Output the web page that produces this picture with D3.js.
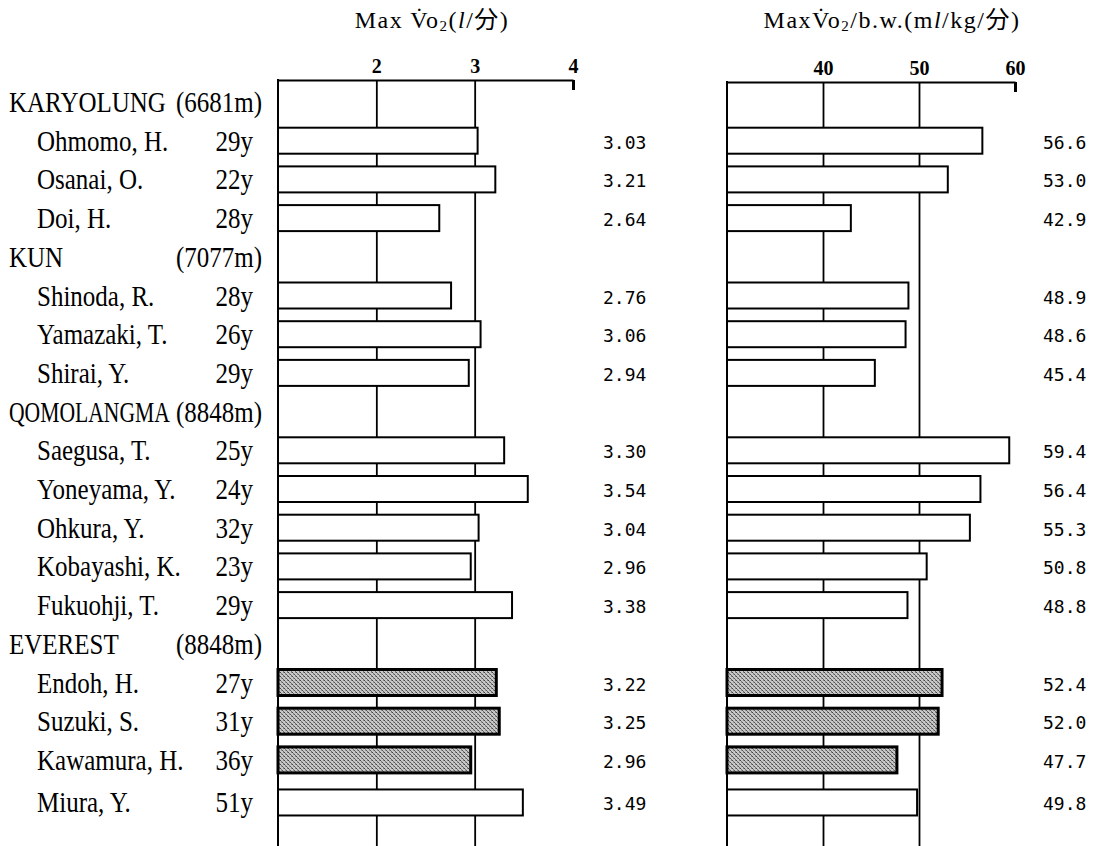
<!DOCTYPE html>
<html>
<head>
<meta charset="utf-8">
<script src="https://cdn.jsdelivr.net/npm/d3@7"></script>
<style>
  body { margin: 0; background: #fff; }
  text { fill: #000; }
  .lab { font-family: "Liberation Serif", "Times New Roman", serif; font-size: 25px; }
  .val { font-family: "DejaVu Sans Mono", "Liberation Mono", monospace; font-size: 18px; }
  .tick text { font-family: "Liberation Serif", serif; font-size: 20px; font-weight: bold; }
  .ttl { font-family: "Liberation Serif", "Noto Sans CJK JP", serif; font-size: 24px; letter-spacing: 1.5px; }
</style>
</head>
<body>
<script>
var expeditions = ["KARYOLUNG", "KUN", "QOMOLANGMA", "EVEREST"];
var altitudes = ["(6681m)", "(7077m)", "(8848m)", "(8848m)"];

var names = ["Ohmomo, H.", "Osanai, O.", "Doi, H.",
             "Shinoda, R.", "Yamazaki, T.", "Shirai, Y.",
             "Saegusa, T.", "Yoneyama, Y.", "Ohkura, Y.", "Kobayashi, K.", "Fukuohji, T.",
             "Endoh, H.", "Suzuki, S.", "Kawamura, H.",
             "Miura, Y."];
var team = ["KARYOLUNG", "KARYOLUNG", "KARYOLUNG",
            "KUN", "KUN", "KUN",
            "QOMOLANGMA", "QOMOLANGMA", "QOMOLANGMA", "QOMOLANGMA", "QOMOLANGMA",
            "EVEREST", "EVEREST", "EVEREST",
            null];
var ages = [29, 22, 28, 28, 26, 29, 25, 24, 32, 23, 29, 27, 31, 36, 51];
var vo2 = [3.03, 3.21, 2.64, 2.76, 3.06, 2.94, 3.30, 3.54, 3.04, 2.96, 3.38, 3.22, 3.25, 2.96, 3.49];
var vo2bw = [56.6, 53.0, 42.9, 48.9, 48.6, 45.4, 59.4, 56.4, 55.3, 50.8, 48.8, 52.4, 52.0, 47.7, 49.8];
var shaded = ["EVEREST"];

var leftTicks = [2, 3, 4], rightTicks = [40, 50, 60];

// build row list: header row then its members, loose members at the end
var rows = [], idx = 0;
expeditions.forEach(function(e, k) {
  rows.push({head: true, name: e, alt: altitudes[k], i: idx++});
  names.forEach(function(n, j) {
    if (team[j] === e) rows.push({head: false, j: j, i: idx++});
  });
});
names.forEach(function(n, j) {
  if (team[j] === null) rows.push({head: false, j: j, i: idx++ + 0.1});
});

var W = 1099, H = 846;
var svg = d3.select("body").append("svg").attr("width", W).attr("height", H);

var defs = svg.append("defs");
var pat = defs.append("pattern").attr("id", "halftone")
    .attr("width", 4).attr("height", 4).attr("patternUnits", "userSpaceOnUse");
pat.append("rect").attr("width", 4).attr("height", 4).attr("fill", "#c8c8c8");
[[0, 0, "#444"], [2, 2, "#555"], [3, 0, "#888"], [1, 2, "#999"], [1, 1, "#777"], [3, 3, "#6a6a6a"]].forEach(function(p) {
  pat.append("rect").attr("x", p[0]).attr("y", p[1]).attr("width", 1).attr("height", 1).attr("fill", p[2]);
});

var y = d3.scaleLinear().domain([0, 1]).range([102, 140.7]);
var barH = 26;
var sy = " scale(1,1.2)";

// labels
var lab = svg.append("g").attr("class", "lab");
rows.forEach(function(r) {
  var by = y(r.i) + 10;
  if (r.head) {
    var a = lab.append("text").attr("text-anchor", "end")
      .attr("transform", "translate(262," + by + ")" + sy).text(r.alt);
    var altStart = 262 - a.node().getComputedTextLength();
    var t = lab.append("text").attr("transform", "translate(9," + by + ")" + sy).text(r.name);
    var room = altStart - 9 - 6, w = t.node().getComputedTextLength();
    if (w > room)   // squeeze long names horizontally, like the print
      t.attr("transform", "translate(9," + by + ") scale(" + (room / w) + ",1.2)");
  } else {
    lab.append("text").attr("transform", "translate(37," + by + ")" + sy).text(names[r.j]);
    lab.append("text").attr("text-anchor", "end")
      .attr("transform", "translate(253," + by + ")" + sy).text(ages[r.j] + "y");
  }
});

function panel(values, domain, range, ticks, fmt, valX, axisY) {
  var x = d3.scaleLinear().domain(domain).range(range);
  var g = svg.append("g");
  var axis = d3.axisTop(x).tickValues(ticks).tickFormat(d3.format("d"))
    .tickSizeInner(-(H - axisY)).tickSizeOuter(0).tickPadding(7);
  var ax = g.append("g").attr("transform", "translate(0," + axisY + ")").call(axis)
    .attr("font-family", null).attr("font-size", null);
  ax.select(".domain").attr("stroke", "#000").attr("stroke-width", 2);
  ax.selectAll(".tick line").attr("stroke", "#000").attr("stroke-width", 1.8)
    .filter(function(d) { return d === ticks[ticks.length - 1]; })
    .attr("y2", 10).attr("stroke-width", 3);
  ax.selectAll(".tick text").attr("transform", "scale(1,1.05)");
  g.append("line").attr("x1", x(domain[0])).attr("x2", x(domain[0]))
    .attr("y1", axisY - 1).attr("y2", H).attr("stroke", "#000").attr("stroke-width", 2);

  var bars = rows.filter(function(r) { return !r.head; });
  g.selectAll("rect.bar").data(bars).enter().append("rect")
    .attr("class", "bar")
    .attr("x", x(domain[0]))
    .attr("y", function(r) { return y(r.i) - barH / 2; })
    .attr("width", function(r) { return x(values[r.j]) - x(domain[0]); })
    .attr("height", barH)
    .attr("fill", function(r) { return shaded.indexOf(team[r.j]) >= 0 ? "url(#halftone)" : "#fff"; })
    .attr("stroke", "#000")
    .attr("stroke-width", function(r) { return shaded.indexOf(team[r.j]) >= 0 ? 3 : 2; });

  g.selectAll("text.val").data(bars).enter().append("text")
    .attr("class", "val")
    .attr("x", valX)
    .attr("y", function(r) { return y(r.i) + 8; })
    .text(function(r) { return fmt(values[r.j]); });
  return x;
}

panel(vo2, [1, 4], [278, 573], leftTicks, d3.format(".2f"), 603, 80);
panel(vo2bw, [30, 60], [727, 1015], rightTicks, d3.format(".1f"), 1043, 82);

// titles
var t1 = svg.append("text").attr("class", "ttl").attr("text-anchor", "middle")
  .attr("transform", "translate(432,28)");
t1.append("tspan").text("Max V\u0307o");
t1.append("tspan").attr("font-size", "15px").attr("dy", 3).text("2");
t1.append("tspan").attr("dy", -3).text("(");
t1.append("tspan").attr("font-style", "italic").text("l");
t1.append("tspan").text("/分)");

var t2 = svg.append("text").attr("class", "ttl").attr("text-anchor", "middle")
  .attr("transform", "translate(892,28)");
t2.append("tspan").text("MaxV\u0307o");
t2.append("tspan").attr("font-size", "15px").attr("dy", 3).text("2");
t2.append("tspan").attr("dy", -3).text("/b.w.(m");
t2.append("tspan").attr("font-style", "italic").text("l");
t2.append("tspan").text("/kg/分)");
</script>
</body>
</html>
